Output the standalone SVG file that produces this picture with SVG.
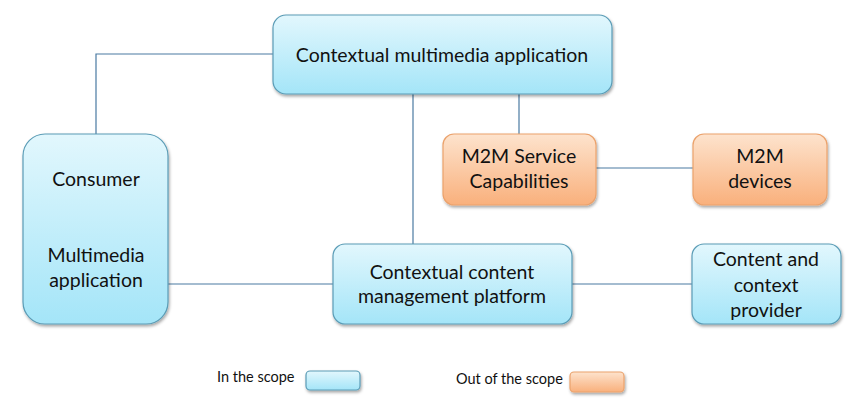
<svg xmlns="http://www.w3.org/2000/svg" width="860" height="409" viewBox="0 0 860 409">
<defs>
<linearGradient id="gBlue" x1="0" y1="0" x2="0" y2="1">
<stop offset="0" stop-color="#e2f7fd"/>
<stop offset="1" stop-color="#a4e5f8"/>
</linearGradient>
<linearGradient id="gOrange" x1="0" y1="0" x2="0" y2="1">
<stop offset="0" stop-color="#fde3cd"/>
<stop offset="1" stop-color="#f9b07c"/>
</linearGradient>
<filter id="sh" x="-10%" y="-10%" width="130%" height="140%">
<feDropShadow dx="1" dy="2" stdDeviation="1.5" flood-color="#000" flood-opacity="0.35"/>
</filter>
</defs>
<style>
.blue{fill:url(#gBlue);stroke:#5a9cb6;stroke-width:1.2;filter:url(#sh)}
.orange{fill:url(#gOrange);stroke:#eba26c;stroke-width:1.2;filter:url(#sh)}
.t{font-family:Lato,"Open Sans","Liberation Sans",sans-serif;font-size:19.5px;fill:#111;text-anchor:middle}
.lg{font-family:Lato,"Open Sans","Liberation Sans",sans-serif;font-size:14.5px;fill:#111}
.c{stroke:#4a7aa2;stroke-width:1.2;fill:none}
</style>
<rect width="860" height="409" fill="#fff"/>
<g id="connectors">
<polyline class="c" points="96,134 96,54 273,54"/>
<line class="c" x1="413" y1="94" x2="413" y2="244"/>
<line class="c" x1="519" y1="94" x2="519" y2="134"/>
<line class="c" x1="596" y1="168" x2="693" y2="168"/>
<line class="c" x1="168" y1="284" x2="333" y2="284"/>
<line class="c" x1="572" y1="284" x2="692" y2="284"/>
</g>
<g id="contextual-multimedia-app">
<rect class="blue" x="273" y="15" width="339" height="79" rx="13"/>
<text class="t" x="442" y="62">Contextual multimedia application</text>
</g>
<g id="consumer">
<rect class="blue" x="23" y="134" width="145" height="190" rx="22"/>
<text class="t" x="96" y="186">Consumer</text>
<text class="t" x="96" y="262">Multimedia</text>
<text class="t" x="96" y="287">application</text>
</g>
<g id="m2m-service-capabilities">
<rect class="orange" x="443" y="134" width="153" height="71" rx="11"/>
<text class="t" x="519" y="163">M2M Service</text>
<text class="t" x="519" y="188">Capabilities</text>
</g>
<g id="m2m-devices">
<rect class="orange" x="693" y="134" width="134" height="71" rx="11"/>
<text class="t" x="760" y="163">M2M</text>
<text class="t" x="760" y="188">devices</text>
</g>
<g id="content-management-platform">
<rect class="blue" x="333" y="244" width="239" height="80" rx="12"/>
<text class="t" x="452" y="279">Contextual content</text>
<text class="t" x="452" y="303">management platform</text>
</g>
<g id="content-context-provider">
<rect class="blue" x="692" y="244" width="149" height="80" rx="12"/>
<text class="t" x="766" y="266">Content and</text>
<text class="t" x="766" y="292">context</text>
<text class="t" x="766" y="317">provider</text>
</g>
<g id="legend-in">
<text class="lg" x="217" y="382">In the scope</text>
<rect class="blue" x="306" y="371" width="54" height="19" rx="4"/>
</g>
<g id="legend-out">
<text class="lg" x="456" y="384">Out of the scope</text>
<rect class="orange" x="570" y="372" width="54" height="20" rx="4"/>
</g>
</svg>
